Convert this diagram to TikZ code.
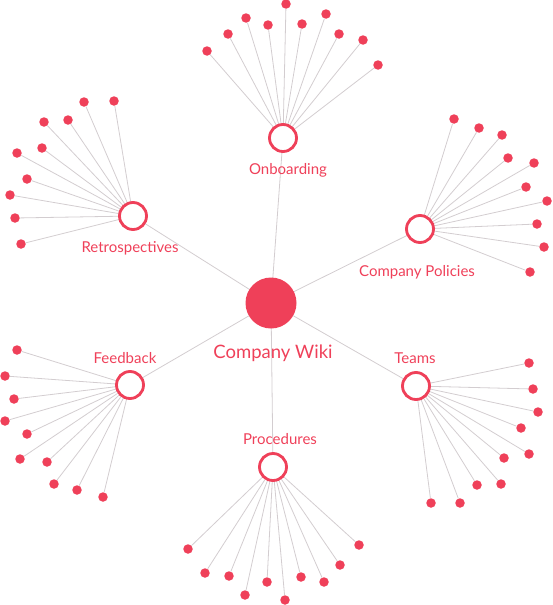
\documentclass[tikz,border=0pt]{standalone}
\usepackage{fontspec}
\setmainfont{Lato}
\definecolor{wred}{HTML}{EF4059}
\definecolor{wline}{HTML}{D3CDD0}
\begin{document}
\begin{tikzpicture}[x=1pt,y=-1pt,
  link/.style={draw=wline,line width=0.8pt},
  hubc/.style={circle,draw=wred,fill=white,line width=2.8pt,minimum size=27pt,inner sep=0pt},
  leaf/.style={circle,fill=wred,minimum size=9.5pt,inner sep=0pt},
  core/.style={circle,fill=wred,minimum size=51pt,inner sep=0pt},
  lab/.style={text=wred,font=\fontsize{15}{17}\selectfont,inner sep=0pt},
  biglab/.style={text=wred,font=\fontsize{18.5}{20}\selectfont,inner sep=0pt}]
\useasboundingbox (0,0) rectangle (552,605);
\coordinate (c) at (271,303);
\coordinate (ob) at (283,138);
\coordinate (re) at (133,216);
\coordinate (cp) at (420,229);
\coordinate (fb) at (130,385);
\coordinate (tm) at (416,386);
\coordinate (pr) at (273,467);
% leaves
\foreach \n/\x/\y in {1/207/51,2/228/34,3/246/18,4/268/25,5/286/4,6/302/24,7/326/14,8/339/34,9/363/40,10/378/65}
  {\node[leaf] (ob\n) at (\x,\y) {}; \draw[link] (ob) -- (ob\n);}
\foreach \n/\x/\y in {1/84/102,2/114/101,3/44/122,4/68/120,5/17/153,6/42/148,7/27/179,8/10/195,9/15/218,10/21/244}
  {\node[leaf] (re\n) at (\x,\y) {}; \draw[link] (re) -- (re\n);}
\foreach \n/\x/\y in {1/454/119,2/479/128,3/502/135,4/508/158,5/534/163,6/526/187,7/547/201,8/537/224,9/544/247,10/530/272}
  {\node[leaf] (cp\n) at (\x,\y) {}; \draw[link] (cp) -- (cp\n);}
\foreach \n/\x/\y in {1/17/350,2/5/376,3/14/399,4/5/421,5/27/434,6/20/459,7/47/462,8/54/484,9/77/490,10/103/497}
  {\node[leaf] (fb\n) at (\x,\y) {}; \draw[link] (fb) -- (fb\n);}
\foreach \n/\x/\y in {1/529/363,2/533/389,3/538/412,4/521/428,5/529/454,6/504/458,7/501/484,8/477/485,9/460/503,10/431/503}
  {\node[leaf] (tm\n) at (\x,\y) {}; \draw[link] (tm) -- (tm\n);}
\foreach \n/\x/\y in {1/188/549,2/205/573,3/229/576,4/245/595,5/267/582,6/285/600,7/301/577,8/324/582,9/340/565,10/359/545}
  {\node[leaf] (pr\n) at (\x,\y) {}; \draw[link] (pr) -- (pr\n);}
% spokes
\foreach \h in {ob,re,cp,fb,tm,pr} \draw[link] (c) -- (\h);
% hubs
\node[core] (wiki) at (c) {};
\foreach \h in {ob,re,cp,fb,tm,pr} \node[hubc] (\h H) at (\h) {};
% labels
\node[biglab] (wikil) at (273,353) {Company Wiki};
\node[lab] (obl) at (288,170) {Onboarding};
\node[lab] (rel) at (130,248) {Retrospectives};
\node[lab] (cpl) at (417,272) {Company Policies};
\node[lab] (fbl) at (125,358) {Feedback};
\node[lab] (tml) at (415,358) {Teams};
\node[lab] (prl) at (280,439) {Procedures};
\end{tikzpicture}
\end{document}
